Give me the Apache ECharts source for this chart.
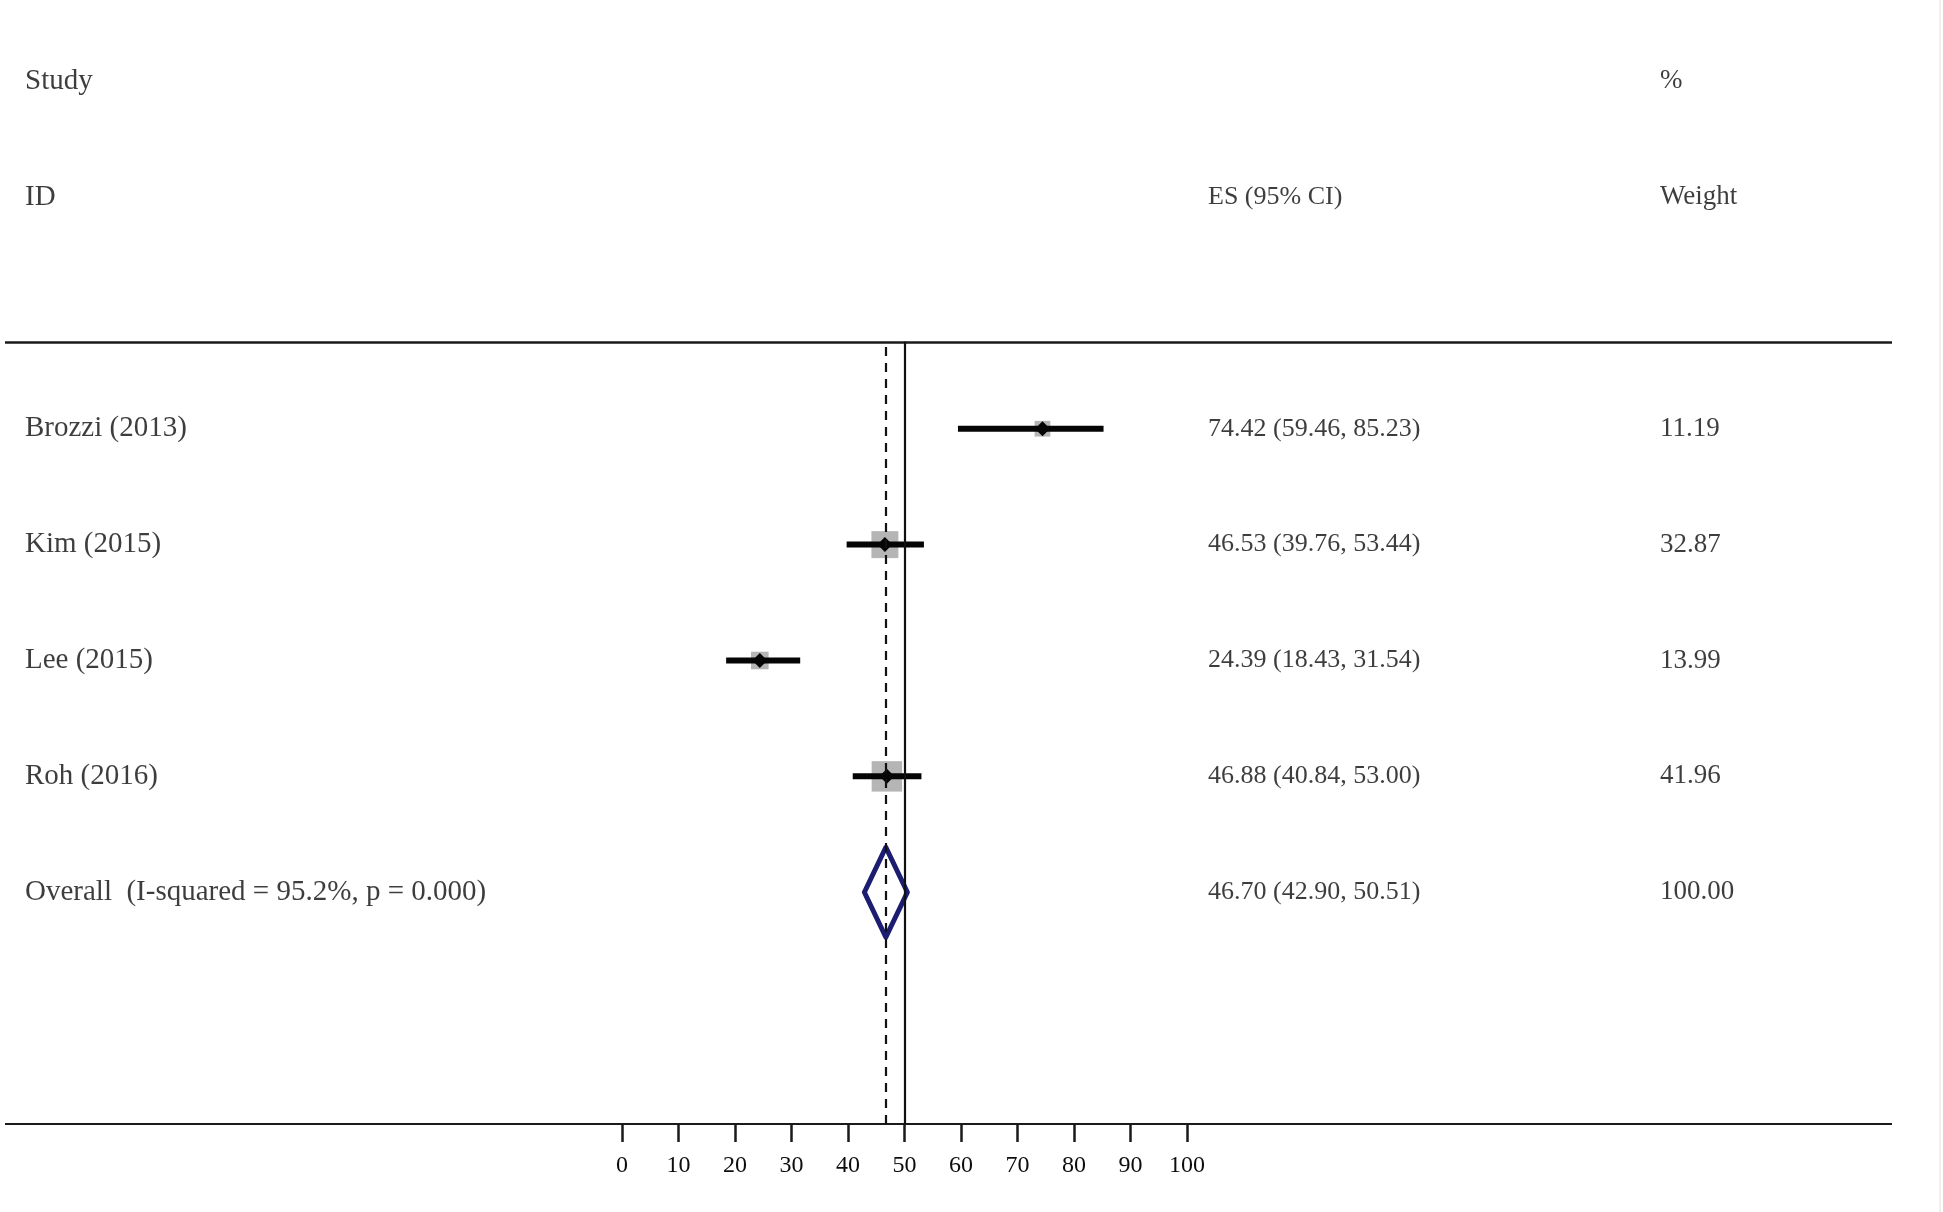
<!DOCTYPE html>
<html>
<head>
<meta charset="utf-8">
<script src="https://cdn.jsdelivr.net/npm/echarts@6/dist/echarts.min.js"></script>
<style>
html,body{margin:0;padding:0;background:#fff;}
#chart{width:1943px;height:1212px;}
</style>
</head>
<body>
<div id="chart"></div>
<script>
// ---- data ----
const studies = ['Brozzi (2013)', 'Kim (2015)', 'Lee (2015)', 'Roh (2016)'];
const es = [74.42, 46.53, 24.39, 46.88];
const ciLow = [59.46, 39.76, 18.43, 40.84];
const ciHigh = [85.23, 53.44, 31.54, 53.00];
const weights = [11.19, 32.87, 13.99, 41.96];
const overallLabel = 'Overall  (I-squared = 95.2%, p = 0.000)';
const overallES = 46.70;
const overallLow = 42.90;
const overallHigh = 50.51;
const overallWeight = 100.00;
const nullValue = 50;
const headers1 = ['Study', '', '%'];
const headers2 = ['ID', 'ES (95% CI)', 'Weight'];

// ---- layout ----
const FONT = '"Liberation Serif", "Times New Roman", serif';
const TEXT_COLOR = '#0d0d0d';
const colFS = [29, 26, 27];
const Y_MAX = 9.7;
const RULE_Y = 6.75;
const colX = [25, 1208, 1660]; // pixel x in text grid
const rowY = studies.map((_, i) => 6 - i);
const overallY = 6 - studies.length;

const fmt = v => v.toFixed(2);

const studyData = studies.map((s, i) => [es[i], ciLow[i], ciHigh[i], weights[i], rowY[i]]);

function textItems(col, entries) {
  return entries.map(e => ({ value: [colX[col], e.y], name: e.t }));
}
const col0 = studies.map((s, i) => ({ t: s, y: rowY[i] })).concat([{ t: overallLabel, y: overallY }, { t: headers1[0], y: 9 }, { t: headers2[0], y: 8 }]);
const col1 = studies.map((s, i) => ({ t: fmt(es[i]) + ' (' + fmt(ciLow[i]) + ', ' + fmt(ciHigh[i]) + ')', y: rowY[i] }))
  .concat([{ t: fmt(overallES) + ' (' + fmt(overallLow) + ', ' + fmt(overallHigh) + ')', y: overallY }, { t: headers2[1], y: 8 }]);
const col2 = weights.map((w, i) => ({ t: fmt(w), y: rowY[i] })).concat([{ t: fmt(overallWeight), y: overallY }, { t: headers1[2], y: 9 }, { t: headers2[2], y: 8 }]);

const textSeries = (data, fs) => ({
  type: 'scatter', xAxisIndex: 1, yAxisIndex: 1, symbolSize: 0, clip: false, silent: true,
  data: data,
  label: { show: true, position: 'right', distance: 0, formatter: p => p.name,
    fontFamily: FONT, fontSize: fs, color: TEXT_COLOR }
});

const chart = echarts.init(document.getElementById('chart'), null, { renderer: 'canvas' });

const option = {
  backgroundColor: '#ffffff',
  animation: false,
  grid: [
    { left: 622, width: 565, top: 0, height: 1124 },
    { left: 0, width: 1943, top: 0, height: 1124 }
  ],
  xAxis: [
    { type: 'value', gridIndex: 0, min: 0, max: 100, interval: 10,
      axisLine: { show: true, lineStyle: { color: '#1a1a1a', width: 2 } },
      axisTick: { show: true, inside: false, length: 18, lineStyle: { color: '#1a1a1a', width: 2.5 } },
      axisLabel: { show: true, margin: 30, fontFamily: FONT, fontSize: 24, color: TEXT_COLOR },
      splitLine: { show: false } },
    { type: 'value', gridIndex: 1, min: 0, max: 1943, show: false }
  ],
  yAxis: [
    { type: 'value', gridIndex: 0, min: 0, max: Y_MAX, show: false },
    { type: 'value', gridIndex: 1, min: 0, max: Y_MAX, show: false }
  ],
  series: [
    // horizontal rules
    { type: 'line', xAxisIndex: 1, yAxisIndex: 1, data: [], silent: true,
      markLine: { symbol: 'none', silent: true, label: { show: false },
        lineStyle: { color: '#1a1a1a', type: 'solid' },
        data: [
          [{ coord: [5, RULE_Y], lineStyle: { width: 2.5 } }, { coord: [1892, RULE_Y] }],
          [{ coord: [5, 0], lineStyle: { width: 2 } }, { coord: [1892, 0] }]
        ] } },
    // null line and overall dashed line
    { type: 'line', xAxisIndex: 0, yAxisIndex: 0, data: [], silent: true,
      markLine: { symbol: 'none', silent: true, label: { show: false },
        data: [
          [{ coord: [nullValue, 0], lineStyle: { color: '#111', width: 2.2, type: 'solid' } }, { coord: [nullValue, RULE_Y] }],
          [{ coord: [overallES, 0], lineStyle: { color: '#111', width: 2.2, type: [9, 7] } }, { coord: [overallES, RULE_Y] }]
        ] } },
    // studies
    { type: 'custom', xAxisIndex: 0, yAxisIndex: 0, clip: false, silent: true,
      data: studyData,
      renderItem: function (params, api) {
        const y = api.value(4);
        const c = api.coord([api.value(0), y]);
        const lo = api.coord([api.value(1), y]);
        const hi = api.coord([api.value(2), y]);
        const s = Math.sqrt(api.value(3)) * 4.7;
        const d = 7.5;
        return { type: 'group', children: [
          { type: 'rect', shape: { x: c[0] - s / 2, y: c[1] - s / 2, width: s, height: s }, style: { fill: '#b5b5b5' } },
          { type: 'line', shape: { x1: lo[0], y1: lo[1], x2: hi[0], y2: hi[1] }, style: { stroke: '#050505', lineWidth: 6 } },
          { type: 'polygon', shape: { points: [[c[0] - d, c[1]], [c[0], c[1] - d], [c[0] + d, c[1]], [c[0], c[1] + d]] }, style: { fill: '#050505' } }
        ] };
      } },
    // overall diamond
    { type: 'custom', xAxisIndex: 0, yAxisIndex: 0, clip: false, silent: true,
      data: [[overallES, overallLow, overallHigh, overallY]],
      renderItem: function (params, api) {
        const y = api.value(3);
        const c = api.coord([api.value(0), y]);
        const lo = api.coord([api.value(1), y]);
        const hi = api.coord([api.value(2), y]);
        const h = 45;
        return { type: 'polygon', shape: { points: [[lo[0], lo[1]], [c[0], c[1] - h], [hi[0], hi[1]], [c[0], c[1] + h]] },
          style: { fill: 'none', stroke: '#1c1c70', lineWidth: 5, lineJoin: 'round' } };
      } },
    textSeries(textItems(0, col0), colFS[0]),
    textSeries(textItems(1, col1), colFS[1]),
    textSeries(textItems(2, col2), colFS[2])
  ],
  graphic: [
    { type: 'rect', left: 1939, top: 0, shape: { width: 2, height: 1212 }, style: { fill: '#f0f0f0' }, silent: true }
  ]
};
chart.setOption(option);
</script>
</body>
</html>
